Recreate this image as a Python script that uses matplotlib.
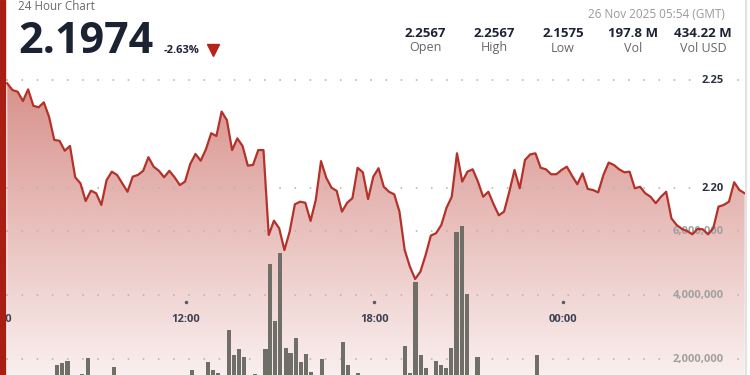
import numpy as np
import matplotlib
matplotlib.use("Agg")
import matplotlib.pyplot as plt
from matplotlib.lines import Line2D
from matplotlib.patches import Rectangle

plt.rcParams['font.family'] = ['Open Sans', 'DejaVu Sans']

# 24h price, 10 minute steps, first point 06:18 (hours counted from 06:00)
price = [
    2.2486, 2.2455, 2.2447, 2.2404, 2.2458, 2.2382, 2.2375, 2.2398, 2.2331, 2.2224,
    2.2220, 2.2174, 2.2196, 2.2051, 2.2023, 2.1941, 2.1989, 2.1977, 2.1923, 2.2038,
    2.2077, 2.2062, 2.2023, 2.1984, 2.2054, 2.2062, 2.2081, 2.2144, 2.2100, 2.2081,
    2.2051, 2.2081, 2.2051, 2.2015, 2.2031, 2.2113, 2.2159, 2.2128, 2.2181, 2.2255,
    2.2242, 2.2355, 2.2316, 2.2177, 2.2231, 2.2196, 2.2105, 2.2108, 2.2177, 2.2177,
    2.1784, 2.1850, 2.1815, 2.1714, 2.1799, 2.1926, 2.1938, 2.1933, 2.1849, 2.1946,
    2.2126, 2.2049, 2.2003, 2.1988, 2.1892, 2.1933, 2.1954, 2.2095, 2.2074, 2.1950,
    2.2054, 2.2093, 2.2007, 2.1984, 2.1972, 2.1892, 2.1714, 2.1637, 2.1580, 2.1614,
    2.1691, 2.1781, 2.1792, 2.1830, 2.1910, 2.1961, 2.2162, 2.2031, 2.2077, 2.2088,
    2.2031, 2.1961, 2.1984, 2.1926, 2.1875, 2.1892, 2.1984, 2.2085, 2.2000, 2.2131,
    2.2157, 2.2162, 2.2095, 2.2088, 2.2065, 2.2065, 2.2085, 2.2100, 2.2058, 2.2019,
    2.2069, 2.1997, 2.1992, 2.1981, 2.2062, 2.2119, 2.2108, 2.2088, 2.2074, 2.2077,
    2.2000, 2.2007, 2.1977, 2.1961, 2.1931, 2.1961, 2.1984, 2.1861, 2.1830, 2.1812,
    2.1802, 2.1787, 2.1812, 2.1810, 2.1787, 2.1815, 2.1915, 2.1923, 2.1938, 2.2028,
    2.1992, 2.1977,
]
times = 0.3 + np.arange(len(price)) / 6.0

# volume bars that show above the bottom edge (hours from 06:00, millions)
vol_hours = [1.89, 2.05, 2.22, 2.68, 2.87, 3.70, 6.18, 6.69, 6.86, 7.02,
             7.37, 7.53, 7.69, 7.85, 8.20, 8.53, 8.68, 8.84, 9.00, 9.18,
             9.33, 9.50, 9.66, 9.82, 9.99, 10.33, 10.99, 11.16, 11.48, 12.98,
             13.14, 13.31, 13.49, 13.65, 13.97, 14.13, 14.28, 14.45, 14.62, 14.79,
             14.96, 15.29, 17.19]
vol_m = [1.81, 1.89, 1.93, 1.53, 2.04, 1.75, 1.67, 1.90, 1.65, 1.55,
         2.91, 2.14, 2.31, 2.07, 1.53, 2.30, 4.96, 3.19, 5.30, 2.33,
         2.18, 2.65, 1.92, 2.17, 1.60, 1.99, 2.54, 1.81, 1.55, 2.41,
         1.55, 4.41, 2.14, 1.71, 1.94, 1.81, 1.73, 2.35, 5.98, 6.15,
         4.03, 2.07, 2.14]
vol = np.array(vol_m) * 1e6

price_ticks = [2.25, 2.20]
vol_ticks = [6e6, 4e6, 2e6]
time_ticks = [0, 6, 12, 18]
time_labels = ['06:00', '12:00', '18:00', '00:00']

stats_val = ['2.2567', '2.2567', '2.1575', '197.8 M', '434.22 M']
stats_lab = ['Open', 'High', 'Low', 'Vol', 'Vol USD']

W, H = 750, 375
def hx(px):  # pixel column -> hours
    return (px + 2.2) / 31.38

fig = plt.figure(figsize=(7.5, 3.75), dpi=100)
fig.patch.set_facecolor('white')

ax = fig.add_axes([0, 0, 1, 1])
axv = fig.add_axes([0, 0, 1, 1], sharex=ax)
axl = fig.add_axes([0, 0, 1, 1], sharex=ax, sharey=ax)
for a in (ax, axv, axl):
    a.axis('off')

x0, x1 = hx(0), hx(W)
p0, p1 = 2.2 - 186.7 / 2160, 2.2 + 188.3 / 2160
ax.set_xlim(x0, x1)
ax.set_ylim(p0, p1)
axv.set_ylim(1.5e6, 13.22e6)

# gradient area under the line
red = np.array([184, 54, 44]) / 255
alpha = np.linspace(0.68, 0.08, 256)
grad = np.zeros((256, 1, 4))
grad[:, 0, :3] = red
grad[:, 0, 3] = alpha
im = ax.imshow(grad, extent=[x0, x1, p0, p1], aspect='auto', origin='upper',
               interpolation='bilinear', zorder=1)
poly = ax.fill_between(times, price, p0, facecolor='none', edgecolor='none')
im.set_clip_path(poly.get_paths()[0], transform=ax.transData)
ax.set_xlim(x0, x1)
ax.set_ylim(p0, p1)

dots = dict(color='#b5b5b5', lw=1.3, linestyle=(0, (0.1, 8.3)), dash_capstyle='round')
for p in price_ticks:
    ax.plot([hx(7), hx(697)], [p, p], zorder=2, **dots)
    ax.plot([hx(738), hx(744)], [p, p], zorder=2, **dots)
    ax.text(hx(723.5), p, f'{p:.2f}', ha='right', va='center', fontsize=8,
            fontweight='bold', color='#2b3140', zorder=5)
for v in vol_ticks:
    axv.plot([hx(7), hx(668)], [v, v], zorder=1, **dots)
    axv.plot([hx(738), hx(744)], [v, v], zorder=1, **dots)
    axv.text(hx(724), v, f'{int(v):,}', ha='right', va='center', fontsize=8,
             fontweight='bold', color='#a0a0a0', zorder=5)

axv.bar(vol_hours, vol, width=0.135, color='#6f6f68', zorder=3)

axl.plot(times, price, color='#b3322a', lw=1.6, zorder=4)

xt = ax.get_xaxis_transform()
for t, lab in zip(time_ticks, time_labels):
    ax.text(t, 1 - 320 / H, lab, transform=xt, ha='center', va='center',
            fontsize=8, fontweight='bold', color='#3a4252', zorder=5)
    ax.plot([t], [1 - 301.7 / H], transform=xt, marker='o', ms=1.5,
            color='#555a66', zorder=5, clip_on=False)

# card borders
fig.add_artist(Rectangle((0, 0), 4.5 / W, 1, transform=fig.transFigure,
                         color='#a81e13', zorder=10))
fig.add_artist(Line2D([746 / W] * 2, [0, 1], transform=fig.transFigure,
                      color='#e2e2e2', lw=1.5, zorder=10))

# header
def fy(py):
    return 1 - py / H

fig.text(18 / W, fy(10), '24 Hour Chart', fontsize=8.4, color='#6b6b6b', va='baseline')
fig.text(18 / W, fy(53), '2.1974', fontsize=31, fontweight='bold', color='#1b2333', va='baseline')
fig.text(164 / W, fy(53), '-2.63%', fontsize=8, fontweight='bold', color='#1b2333', va='baseline')
fig.add_artist(Line2D([212.5 / W], [fy(50)], transform=fig.transFigure, marker='v',
                      ms=8, color='#b5231a', lw=0))
fig.text(725 / W, fy(18), '26 Nov 2025 05:54 (GMT)', fontsize=8.5, color='#9a9a9a',
         ha='right', va='baseline')
for cx, val, lab in zip([425, 494, 563, 633, 703], stats_val, stats_lab):
    fig.text(cx / W, fy(37), val, fontsize=9.5, fontweight='bold', color='#1b2333',
             ha='center', va='baseline')
    fig.text(cx / W, fy(51.5), lab, fontsize=9, color='#666666', ha='center', va='baseline')

fig.savefig('out.png', dpi=100)
